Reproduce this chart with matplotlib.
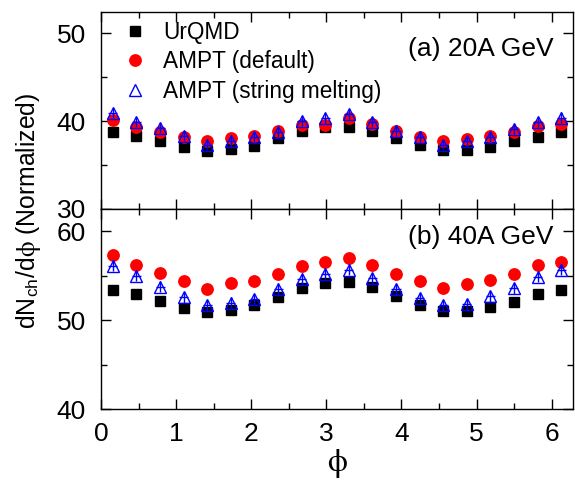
import matplotlib
matplotlib.use('Agg')
import matplotlib.pyplot as plt
import numpy as np
from matplotlib.ticker import MultipleLocator

plt.rcParams['font.family'] = ['Liberation Sans', 'DejaVu Sans']
plt.rcParams['mathtext.fontset'] = 'stix'

# 20 azimuthal bins over 0..2pi
phi = (np.arange(20) + 0.5) * 2 * np.pi / 20

# (a) 20A GeV
urqmd_20 = [38.7, 38.3, 37.7, 37.0, 36.6, 36.8, 37.2, 38.1, 38.9, 39.3,
            39.3, 38.9, 38.1, 37.3, 36.7, 36.7, 37.1, 37.7, 38.2, 38.7]
ampt_def_20 = [40.1, 39.3, 38.7, 38.2, 37.7, 38.1, 38.3, 38.9, 39.5, 39.6,
               40.4, 39.7, 38.9, 38.2, 37.7, 38.0, 38.3, 38.8, 39.4, 39.7]
ampt_sm_20 = [40.9, 39.9, 39.2, 38.3, 37.3, 37.7, 38.2, 38.8, 40.0, 40.3,
              40.8, 39.9, 38.9, 38.2, 37.3, 37.7, 38.2, 39.1, 39.9, 40.4]

# (b) 40A GeV
urqmd_40 = [53.4, 53.0, 52.2, 51.4, 50.9, 51.2, 51.7, 52.6, 53.6, 54.2,
            54.3, 53.7, 52.7, 51.7, 51.1, 51.1, 51.5, 52.1, 53.0, 53.4]
ampt_def_40 = [57.3, 56.2, 55.3, 54.4, 53.5, 54.2, 54.4, 55.2, 56.1, 56.5,
               57.0, 56.2, 55.2, 54.4, 53.6, 54.1, 54.5, 55.2, 56.2, 56.6]
ampt_sm_40 = [56.1, 55.0, 53.8, 52.6, 51.7, 52.0, 52.4, 53.5, 54.6, 55.2,
              55.7, 54.7, 53.5, 52.5, 51.7, 51.8, 52.7, 53.6, 54.9, 55.7]

sm_err = 0.6

fig = plt.figure(figsize=(5.75, 4.8), dpi=100)
ax1 = fig.add_axes([0.1757, 0.5646, 0.8208, 0.4104])
ax2 = fig.add_axes([0.1757, 0.1469, 0.8208, 0.4177])


def draw_panel(ax, urqmd, ampt_def, ampt_sm):
    ax.plot(phi, urqmd, 's', color='black', ms=6.8, label='UrQMD', zorder=3)
    ax.plot(phi, ampt_def, 'o', color='red', ms=8.2, label='AMPT (default)', zorder=4)
    ax.errorbar(phi, ampt_sm, yerr=sm_err, xerr=0.06, fmt='^', color='blue',
                mfc='none', mec='blue', ms=8, mew=1.0, elinewidth=1.0,
                capsize=0, zorder=5)
    # plain marker for the legend entry
    ax.plot([], [], '^', mfc='none', mec='blue', ms=8, mew=1.0,
            label='AMPT (string melting)')


draw_panel(ax1, urqmd_20, ampt_def_20, ampt_sm_20)
draw_panel(ax2, urqmd_40, ampt_def_40, ampt_sm_40)

ax1.set_ylim(30, 52.4)
ax2.set_ylim(40, 62.5)
for ax in (ax1, ax2):
    ax.set_xlim(0, 2 * np.pi)
    ax.xaxis.set_major_locator(MultipleLocator(1))
    ax.xaxis.set_minor_locator(MultipleLocator(0.5))
    ax.yaxis.set_major_locator(MultipleLocator(10))
    ax.yaxis.set_minor_locator(MultipleLocator(5))
    ax.tick_params(which='both', direction='in', top=True, right=True,
                   labelsize=19, width=1)
    ax.tick_params(which='major', length=7)
    ax.tick_params(which='minor', length=4)
    ax.tick_params(axis='y', pad=11)
    ax.tick_params(axis='x', pad=9)
    for s in ax.spines.values():
        s.set_linewidth(1)
ax1.tick_params(labelbottom=False)

ax1.legend(loc='upper left', frameon=False, fontsize=16.3, handletextpad=0.45,
           borderpad=0, borderaxespad=0, labelspacing=0.28, handlelength=1.6,
           bbox_to_anchor=(0.034, 0.955))
ax1.text(0.958, 0.81, '(a) 20A GeV', transform=ax1.transAxes, ha='right',
         va='center', fontsize=19)
ax2.text(0.958, 0.86, '(b) 40A GeV', transform=ax2.transAxes, ha='right',
         va='center', fontsize=19)

ax2.set_xlabel(r'$\mathrm{\phi}$', fontsize=23, labelpad=1)
fig.text(0.049, 0.56, r'dN$_{\mathregular{ch}}$/d$\mathrm{\phi}$ (Normalized)',
         rotation=90, ha='center', va='center', fontsize=17.8)

fig.savefig('out.png', dpi=100)
